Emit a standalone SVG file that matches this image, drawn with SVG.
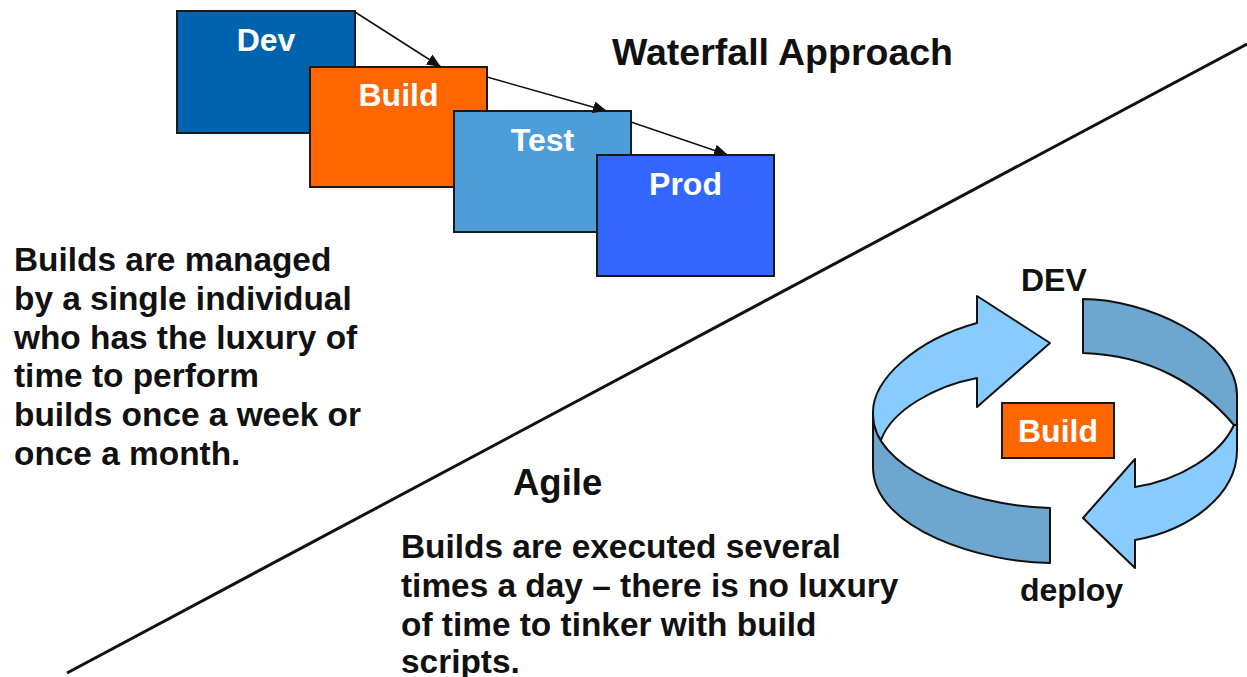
<svg xmlns="http://www.w3.org/2000/svg" width="1247" height="677" viewBox="0 0 1247 677">
<style>
text{font-family:"Liberation Sans",Arial,sans-serif;font-weight:bold;}
.lbl{fill:#ffffff;font-size:32px;text-anchor:middle;}
.body{fill:#111111;font-size:33.4px;}
.title{fill:#111111;font-size:37.5px;}
.small{fill:#111111;font-size:32px;}
.box{stroke:#1a1a1a;stroke-width:2;}
.conn{stroke:#111111;stroke-width:1.5;fill:none;}
.light{fill:#88CCFF;stroke:#111111;stroke-width:2;stroke-linejoin:round;}
.dark{fill:#6DA6CE;stroke:#111111;stroke-width:2;stroke-linejoin:round;}
</style>
<defs>
<marker id="ah2" viewBox="0 0 14 12" refX="14" refY="6" markerWidth="14" markerHeight="12" markerUnits="userSpaceOnUse" orient="auto">
<path d="M0,0 L14,6 L0,12 Z" fill="#111111"/>
</marker>
</defs>
<rect width="1247" height="677" fill="#ffffff"/>
<line x1="67" y1="673" x2="1247" y2="44" stroke="#111111" stroke-width="3"/>
<g id="node-dev"><rect class="box" x="177" y="11" width="178" height="122" fill="#0063AF"/><text class="lbl" x="266" y="51">Dev</text></g>
<g id="node-build"><rect class="box" x="310" y="67" width="177" height="120" fill="#FF6600"/><text class="lbl" x="398.5" y="106">Build</text></g>
<g id="node-test"><rect class="box" x="454" y="111" width="177" height="121" fill="#4D9DD9"/><text class="lbl" x="542.5" y="151">Test</text></g>
<g id="node-prod"><rect class="box" x="597" y="155" width="177" height="121" fill="#3366FF"/><text class="lbl" x="685.5" y="195">Prod</text></g>
<g id="connectors">
<line class="conn" x1="355" y1="12" x2="441" y2="67" marker-end="url(#ah2)"/>
<line class="conn" x1="487" y1="77" x2="607" y2="111" marker-end="url(#ah2)"/>
<line class="conn" x1="631" y1="122" x2="728" y2="155" marker-end="url(#ah2)"/>
</g>
<g id="title-waterfall"><text class="title" x="612" y="65">Waterfall Approach</text></g>
<g id="text-waterfall"><text class="body" x="14" y="271"><tspan x="14" y="271">Builds are managed</tspan><tspan x="14" y="309.8">by a single individual</tspan><tspan x="14" y="348.6">who has the luxury of</tspan><tspan x="14" y="387.4">time to perform</tspan><tspan x="14" y="426.2">builds once a week or</tspan><tspan x="14" y="465">once a month.</tspan></text></g>
<g id="title-agile"><text class="title" x="513" y="495" style="font-size:36.5px">Agile</text></g>
<g id="text-agile"><text class="body" x="401" y="558"><tspan x="401" y="558">Builds are executed several</tspan><tspan x="401" y="596.8">times a day – there is no luxury</tspan><tspan x="401" y="635.6">of time to tinker with build</tspan><tspan x="401" y="673">scripts.</tspan></text></g>
<g id="cycle">
<path class="light" d="M873,430 L873,412 C873,380 915,340 977,323 L977,296 L1050,343 L977,407 L977,378 C935,386 892,410 881,440 Z"/>
<path class="dark" d="M873,415 C873,465 960,505 1050,508 L1050,563 C985,563 873,530 873,467 Z"/>
<path class="dark" d="M1083,299 C1145,299 1237,340 1237,395 L1237,425 L1234,425 C1200,385 1150,355 1083,353 Z"/>
<path class="light" d="M1234,425 C1220,455 1180,480 1135,487 L1135,459 L1083,518 L1135,568 L1135,540 C1190,530 1237,495 1237,450 L1237,425 Z"/>
</g>
<g id="node-cycle-build"><rect class="box" x="1002" y="403" width="112" height="55" fill="#FF6600"/><text class="lbl" x="1058" y="442">Build</text></g>
<g id="label-dev"><text class="small" x="1021" y="291">DEV</text></g>
<g id="label-deploy"><text class="small" x="1020" y="601">deploy</text></g>
</svg>
